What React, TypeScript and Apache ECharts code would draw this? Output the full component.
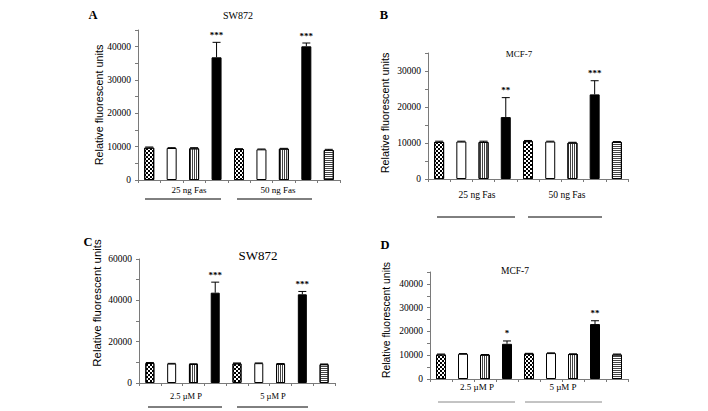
import React, { useEffect, useRef } from "react";
import * as echarts from "echarts";

const categories = ["1", "2", "3", "4", "5", "6", "7", "8", "9"];

const valuesA = [9700, 9600, 9500, 36800, 9300, 9200, 9400, 40100, 9000];
const errTopA = [9900, 9700, 9700, 41300, 9400, 9300, 9500, 41100, 9200];
const starsA = ["", "", "", "***", "", "", "", "***", ""];

const valuesB = [10300, 10400, 10300, 17200, 10500, 10400, 10100, 23500, 10300];
const errTopB = [10500, 10500, 10500, 22600, 10700, 10500, 10200, 27300, 10400];
const starsB = ["", "", "", "**", "", "", "", "***", ""];

const valuesC = [9700, 9400, 9200, 43700, 9500, 9600, 9300, 42900, 9100];
const errTopC = [9900, 9500, 9300, 48800, 9700, 9700, 9400, 44300, 9200];
const starsC = ["", "", "", "***", "", "", "", "***", ""];

const valuesD = [10300, 10600, 10200, 14800, 10700, 10900, 10500, 23100, 10300];
const errTopD = [10500, 10700, 10300, 16000, 10800, 11000, 10600, 24500, 10500];
const starsD = ["", "", "", "*", "", "", "", "**", ""];

const groupLabelsFas = ["25 ng Fas", "50 ng Fas"];
const groupLabelsP = ["2.5 \u00b5M P", "5 \u00b5M P"];

const SERIF = "'Liberation Serif', 'Times New Roman', serif";
const SANS = "'Liberation Sans', Arial, sans-serif";

const checker = {
  symbol: "rect",
  symbolSize: 1,
  color: "#000",
  dashArrayX: [[2, 2], [0, 2, 2, 0]],
  dashArrayY: [2, 0],
  rotation: 0,
};
const vstripe = {
  symbol: "rect",
  symbolSize: 1,
  color: "#444",
  dashArrayX: [1, 1],
  dashArrayY: [10, 0],
  rotation: 0,
};
const hstripe = {
  symbol: "rect",
  symbolSize: 1,
  color: "#444",
  dashArrayX: [10, 0],
  dashArrayY: [1, 1],
  rotation: 0,
};

function styleFor(i: number) {
  const k = i % 4;
  if (i === 8) return { color: "#fff", borderColor: "#000", borderWidth: 1, decal: hstripe };
  if (k === 0) return { color: "#fff", borderColor: "#000", borderWidth: 1, decal: checker };
  if (k === 1) return { color: "#fff", borderColor: "#000", borderWidth: 1 };
  if (k === 2) return { color: "#fff", borderColor: "#000", borderWidth: 1, decal: vstripe };
  return { color: "#000", borderColor: "#000", borderWidth: 1 };
}

export default function App() {
  const ref = useRef<HTMLDivElement>(null);
  useEffect(() => {
    if (!ref.current) return;
    const chart = echarts.init(ref.current, null, { renderer: "svg" });

    const panels = [
      { grid: { left: 138, top: 30, width: 202, height: 150 }, max: 45000, interval: 5000, labelStep: 10000, values: valuesA, errs: errTopA, stars: starsA, barWidth: 10 },
      { grid: { left: 428, top: 53, width: 200, height: 126 }, max: 35000, interval: 5000, labelStep: 10000, values: valuesB, errs: errTopB, stars: starsB, barWidth: 10 },
      { grid: { left: 139, top: 259, width: 196, height: 124 }, max: 60000, interval: 10000, labelStep: 20000, values: valuesC, errs: errTopC, stars: starsC, barWidth: 9 },
      { grid: { left: 430, top: 272, width: 198, height: 107 }, max: 45000, interval: 5000, labelStep: 10000, values: valuesD, errs: errTopD, stars: starsD, barWidth: 10 },
    ];

    const axisColor = "#7a7a7a";
    const grids = panels.map((p) => ({ ...p.grid, containLabel: false }));
    const xAxes = panels.map((p, i) => ({
      type: "category",
      gridIndex: i,
      data: categories,
      axisLine: { show: true, lineStyle: { color: axisColor, width: 1 } },
      axisTick: { show: true, length: 3, lineStyle: { color: axisColor } },
      axisLabel: { show: false },
    }));
    const yAxes = panels.map((p, i) => ({
      type: "value",
      gridIndex: i,
      min: 0,
      max: p.max,
      interval: p.interval,
      axisLine: { show: true, lineStyle: { color: axisColor, width: 1 } },
      axisTick: { show: true, length: 3, lineStyle: { color: axisColor } },
      splitLine: { show: false },
      axisLabel: {
        margin: 7,
        fontFamily: SERIF,
        fontSize: 9.5,
        color: "#000",
        formatter: (v: number) => (v % p.labelStep === 0 ? String(v) : ""),
      },
    }));

    const series: any[] = [];
    panels.forEach((p, i) => {
      series.push({
        type: "bar",
        xAxisIndex: i,
        yAxisIndex: i,
        barWidth: p.barWidth,
        data: p.values.map((v, j) => ({ value: v, itemStyle: styleFor(j) })),
        z: 2,
      });
      series.push({
        type: "custom",
        xAxisIndex: i,
        yAxisIndex: i,
        z: 3,
        encode: { x: 0, y: 1 },
        data: p.values.map((v, j) => [j, v, p.errs[j]]),
        renderItem: (params: any, api: any) => {
          const x = api.value(0);
          const v = api.value(1);
          const e = api.value(2);
          const p0 = api.coord([x, v]);
          const p1 = api.coord([x, e]);
          const st = p.stars[params.dataIndex];
          const children: any[] = [
            { type: "line", shape: { x1: p0[0], y1: p0[1], x2: p1[0], y2: p1[1] }, style: { stroke: "#000", lineWidth: 1 } },
            { type: "line", shape: { x1: p1[0] - 4, y1: p1[1], x2: p1[0] + 4, y2: p1[1] }, style: { stroke: "#000", lineWidth: 1 } },
          ];
          if (st) {
            children.push({
              type: "text",
              style: { text: st, x: p1[0], y: p1[1] - 3, align: "center", verticalAlign: "bottom", font: `bold 9px ${SERIF}`, fill: "#000" },
            });
          }
          return { type: "group", children };
        },
      });
    });

    const txt = (text: string, x: number, y: number, size: number, opts: any = {}) => ({
      type: "text",
      x,
      y,
      rotation: opts.rotation || 0,
      style: {
        text,
        align: "center",
        verticalAlign: "middle",
        font: `${opts.bold ? "bold " : ""}${size}px ${opts.family || SERIF}`,
        fill: opts.fill || "#000",
      },
    });
    const uline = (x1: number, x2: number, y: number, color = "#000") => ({
      type: "line",
      shape: { x1, y1: y, x2, y2: y },
      style: { stroke: color, lineWidth: 1 },
    });

    const graphic = [
      txt("A", 93, 15, 12.5, { bold: true }),
      txt("B", 384, 15, 12.5, { bold: true }),
      txt("C", 88, 242, 12.5, { bold: true }),
      txt("D", 385, 245, 12.5, { bold: true }),
      txt("SW872", 238, 15, 10),
      txt("MCF-7", 519, 54, 9),
      txt("SW872", 258, 255, 13),
      txt("MCF-7", 515, 271, 9.5),
      txt("Relative fluorescent units", 98.5, 105, 10.8, { family: SANS, rotation: Math.PI / 2 }),
      txt("Relative fluorescent units", 385, 113, 10.8, { family: SANS, rotation: Math.PI / 2 }),
      txt("Relative fluorescent units", 96.5, 303, 11.4, { family: SANS, rotation: Math.PI / 2 }),
      txt("Relative fluorescent units", 386.5, 320, 10.4, { family: SANS, rotation: Math.PI / 2 }),
      txt(groupLabelsFas[0], 189, 190, 9),
      txt(groupLabelsFas[1], 278, 190, 9),
      txt(groupLabelsFas[0], 477, 195, 9.5),
      txt(groupLabelsFas[1], 567, 195, 9.5),
      txt(groupLabelsP[0], 186, 396, 8.5),
      txt(groupLabelsP[1], 273, 396, 8.5),
      txt(groupLabelsP[0], 477, 387, 9),
      txt(groupLabelsP[1], 563, 387, 9),
      uline(145, 221, 199),
      uline(237, 312, 199),
      uline(437, 515, 217),
      uline(528, 602, 217),
      uline(148, 222, 407),
      uline(237, 308, 407),
      uline(438, 515, 402, "#888"),
      uline(525, 602, 402, "#888"),
    ];

    chart.setOption({
      animation: false,
      backgroundColor: "#fff",
      grid: grids,
      xAxis: xAxes,
      yAxis: yAxes,
      series,
      graphic,
    });
    return () => chart.dispose();
  }, []);
  return <div ref={ref} style={{ position: "fixed", left: 0, top: 0, width: 708, height: 411 }} />;
}
